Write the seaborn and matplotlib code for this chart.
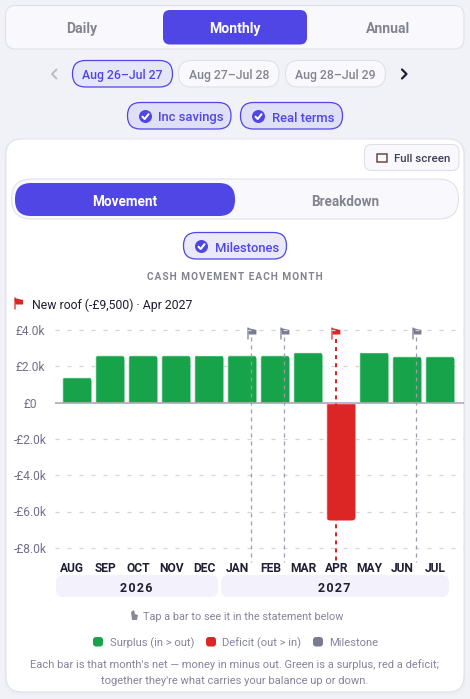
import matplotlib
matplotlib.use("Agg")
import matplotlib.pyplot as plt
import seaborn as sns
import pandas as pd
from matplotlib.patches import FancyBboxPatch, Rectangle, Circle, Polygon
from matplotlib.lines import Line2D

months = ["AUG","SEP","OCT","NOV","DEC","JAN","FEB","MAR","APR","MAY","JUN","JUL"]
net_k = [1.40,2.60,2.60,2.60,2.62,2.60,2.60,2.78,-6.50,2.80,2.55,2.55]
y_ticks = [4,2,0,-2,-4,-6,-8]
y_labels = ["£4.0k","£2.0k","£0","-£2.0k","-£4.0k","-£6.0k","-£8.0k"]
milestones = ["JAN","FEB","APR","JUN"]
active_milestone = "APR"

GREEN="#16a34a"; RED="#dc2626"; GREY="#7a7a90"; INDIGO="#4f46e5"
BG="#f1f2f8"; PALE="#f8f8fd"; EDGE="#dfdfea"; CHIP="#dfdff7"; TXT="#84848f"; SOFT="#85859a"

sns.set_theme(style="white")
FONT=["Roboto","DejaVu Sans"]
plt.rcParams["font.family"]=FONT
W,H=470,699
fig=plt.figure(figsize=(W/100,H/100),dpi=100,facecolor=BG)
ui=fig.add_axes([0,0,1,1],zorder=0); ui.set_xlim(0,W); ui.set_ylim(H,0); ui.axis("off")
px=lambda s:s*0.72

def box(x0,y0,x1,y1,r,fc,ec="none",lw=0.75,ax=ui,**k):
    p=FancyBboxPatch((x0+r,y0+r),x1-x0-2*r,y1-y0-2*r,boxstyle=f"round,pad={r},rounding_size={r}",fc=fc,ec=ec,lw=lw,**k)
    ax.add_patch(p); return p
def t(x,y,s,size,color,weight="normal",ha="center",**k):
    return ui.text(x,y,s,fontsize=px(size),color=color,fontweight=weight,ha=ha,va="center_baseline",**k)
def check(cx,cy,r=6.5):
    ui.add_patch(Circle((cx,cy),r,fc=INDIGO,ec="none"))
    ui.add_line(Line2D([cx-3,cx-0.8,cx+3],[cy+0.2,cy+2.5,cy-2.3],color="white",lw=1.5))
def flag(x,y,c,s=1.0):
    ui.add_patch(Polygon([(x,y-5*s),(x+8.5*s,y-3*s),(x+8.5*s,y+1.5*s),(x+1,y+1.5*s)],fc=c,ec="none",zorder=6))
    ui.add_line(Line2D([x,x],[y-5*s,y+5.5*s],color=c,lw=1.1,alpha=0.8,zorder=6))

# top nav
box(5.5,5.5,464,49,10,PALE,EDGE)
box(163,10,307,44.5,7,INDIGO)
t(82,27.5,"Daily",14,TXT,"bold"); t(235,27.5,"Monthly",14,"white","bold"); t(388,27.5,"Annual",14,TXT,"bold")
# date chips
ui.add_line(Line2D([56.5,52,56.5],[69.5,74,78.5],color="#bcbcc6",lw=1.4))
ui.add_line(Line2D([402,406.5,402],[69.5,74,78.5],color="#1e1e3c",lw=1.6))
box(72.5,60.5,172.5,87,13,"#e6e6f9",INDIGO,0.9); t(122.5,74,"Aug 26–Jul 27",12.3,INDIGO,"medium")
box(178.5,60.5,279,87,13,PALE,EDGE); t(229,74,"Aug 27–Jul 28",12.3,TXT,"medium")
box(285.5,60.5,385.5,87,13,PALE,EDGE); t(335.5,74,"Aug 28–Jul 29",12.3,TXT,"medium")
# toggles
box(127.5,102.5,231,129,13,CHIP,INDIGO,0.9); check(145.5,116.5); t(158.5,116.5,"Inc savings",13,INDIGO,"medium",ha="left")
box(240.5,102.5,342.5,129,13,CHIP,INDIGO,0.9); check(258.5,116.5); t(272,116.5,"Real terms",13,INDIGO,"medium",ha="left")
# card
box(4,139,466,695,17,"#ecedf5")
box(6,139,464,692,16,"white",EDGE)
box(364.5,144.5,459,170.5,7,PALE,EDGE)
ui.add_patch(Rectangle((376.5,154),10.5,7.5,fc="none",ec="#6a4a4a",lw=1.1))
t(394.5,158,"Full screen",11.5,"#3f3f58","medium",ha="left")
box(11.5,179,458.5,219,20,PALE,EDGE)
box(15,183,235,216,16,INDIGO)
t(125,200,"Movement",13.5,"white","bold"); t(345,200,"Breakdown",13.5,TXT,"bold")
box(183.5,232.5,286.5,259,13,"#e9e9fb",INDIGO,0.9); check(201.5,246.5); t(214.5,246.5,"Milestones",13,INDIGO,"medium",ha="left")
HS="\u200a"
t(235,275.5,HS.join("CASH MOVEMENT EACH MONTH"),10.1,"#83838f","bold")
flag(14.5,303,RED,1.0)
t(31.5,303.5,"New roof (-£9,500) · Apr 2027",12.3,"#1e1e35",ha="left")

# chart
top,bottom,left,right=322,562,55,464
ax=fig.add_axes([left/W,1-bottom/H,(right-left)/W,(bottom-top)/H],zorder=2,facecolor="none")
df=pd.DataFrame({"month":months,"net":net_k,"kind":["s" if v>=0 else "d" for v in net_k]})
sns.barplot(data=df,x="month",y="net",hue="kind",palette={"s":GREEN,"d":RED},dodge=False,width=0.88,legend=False,ax=ax,saturation=1,zorder=3)
pitch=33.0; first=77.0; label_shift=-0.14
ax.set_xlim((left-first)/pitch,(right-first)/pitch)
k=18.15; zero=402.6
ax.set_ylim((zero-bottom)/k,(zero-top)/k)
ax.set_yticks(y_ticks,y_labels)
ax.set_xticks([i+label_shift for i in range(len(months))],months)
ax.tick_params(axis="y",length=0,pad=18,labelsize=px(12),labelcolor="#70708a")
for l in ax.get_yticklabels(): l.set_ha("center")
ax.tick_params(axis="x",length=0,pad=0,labelsize=px(12),labelcolor="#1e1e35")
for l in ax.get_xticklabels(): l.set_fontweight("bold")
ax.set_xlabel(""); ax.set_ylabel("")
sns.despine(ax=ax,left=True,bottom=True,top=True,right=True)
ax.grid(False)
for v in y_ticks:
    if v==0: ax.axhline(0,color="#a9a9bd",lw=1.2,zorder=4)
    else: ax.axhline(v,color="#d3d3db",lw=0.9,dashes=(3.2,6.4),zorder=1)
fig.canvas.draw()
# rounded outer ends on each bar
r=4
for b in ax.patches:
    if b.get_height()==0: continue
    x0,x1=b.get_x(),b.get_x()+b.get_width()
    y0,y1=sorted((b.get_y(),b.get_y()+b.get_height()))
    (a0,c0),(a1,c1)=ax.transData.transform([(x0,y0),(x1,y1)])
    if b.get_height()>0: c0-=10
    else: c1+=10
    shape=FancyBboxPatch((a0+r,c0+r),a1-a0-2*r,c1-c0-2*r,boxstyle=f"round,pad={r},rounding_size={r}",transform=None,fc="none",ec="none")
    b.set_clip_path(shape)

# milestone markers (offset from each month's bar centre)
for m in milestones:
    i=months.index(m)
    hot=m==active_milestone
    xd=i+label_shift if hot else i+0.27
    c=RED if hot else GREY
    if hot:
        ax.plot([xd,xd],[(zero-339)/k,(zero-bottom)/k],color=c,lw=1.45,dashes=(2,2),zorder=5,clip_on=False)
    else:
        ax.plot([xd,xd],[(zero-337)/k,(zero-bottom)/k],color="#9c9cac",lw=0.9,dashes=(3.2,3.2),zorder=5,clip_on=False)
    xp=first+pitch*xd
    flag(xp-(4.5 if hot else 3),333,c,1.0)

# year bands
box(56,575,218,597,7,"#f3f2fc"); box(221,575,449,597,7,"#f3f2fc")
t(136.5,586.5,HS.join("2026"),12.5,"#1e1e35","bold"); t(334.5,586.5,HS.join("2027"),12.5,"#1e1e35","bold")
# hint
ui.add_patch(Polygon([(131,612),(134,610),(135,614),(138,615),(137,620),(132,620)],fc="#8a8a9c",ec="none"))
t(143,615.5,"Tap a bar to see it in the statement below",10.9,SOFT,ha="left")
# legend
for x,c,tx,lab in [(93,GREEN,109.5,"Surplus (in > out)"),(206,RED,221.5,"Deficit (out > in)"),(313,GREY,329,"Milestone")]:
    box(x,637,x+10,646.5,3,c)
    t(tx,642,lab,11.2,SOFT,ha="left")
t(235,663.5,"Each bar is that month's net — money in minus out. Green is a surplus, red a deficit;",11.1,SOFT)
t(235,679.5,"together they're what carries your balance up or down.",11.1,SOFT)
fig.savefig("out.png",dpi=100,facecolor=BG)
